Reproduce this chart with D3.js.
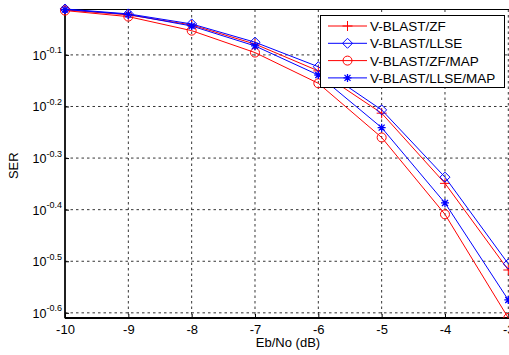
<!DOCTYPE html>
<html><head><meta charset="utf-8">
<script src="https://cdn.jsdelivr.net/npm/d3@7"></script>
<style>body{margin:0;background:#fff}svg{display:block}text{font-family:"Liberation Sans",Arial,sans-serif}</style>
</head><body><svg id="c" width="509" height="355"></svg>
<script>
const ebno = [-10, -9, -8, -7, -6, -5, -4, -3];
const zf      = [0.9710, 0.9495, 0.9078, 0.8337, 0.7396, 0.6124, 0.4477, 0.3041];
const llse    = [0.9750, 0.9539, 0.9120, 0.8406, 0.7534, 0.6214, 0.4603, 0.3126];
const zfMap   = [0.9681, 0.9423, 0.8851, 0.8026, 0.6998, 0.5495, 0.3899, 0.2455];
const llseMap = [0.9727, 0.9517, 0.9036, 0.8268, 0.7261, 0.5741, 0.4102, 0.2661];
const seriesNames = ["V-BLAST/ZF", "V-BLAST/LLSE", "V-BLAST/ZF/MAP", "V-BLAST/LLSE/MAP"];
const yTickExps = ["-0.1", "-0.2", "-0.3", "-0.4", "-0.5", "-0.6"];
const xTicks = [-10, -9, -8, -7, -6, -5, -4, -3];

const series = [
  {name: seriesNames[0], values: zf, color: "#ff0000", marker: "plus"},
  {name: seriesNames[1], values: llse, color: "#0000ff", marker: "diamond"},
  {name: seriesNames[2], values: zfMap, color: "#ff0000", marker: "circle"},
  {name: seriesNames[3], values: llseMap, color: "#0000ff", marker: "star"}
];

const svg = d3.select("#c");
const L = 65, R = 508.3, RB = 512, T = 9.5, B = 318;
const x = d3.scaleLinear().domain([-10, -3]).range([L, R]);
const y = d3.scaleLog().domain([Math.pow(10, -0.61), Math.pow(10, -0.012)]).range([B, T]);

const defs = svg.append("defs");
defs.append("clipPath").attr("id", "clip").append("rect")
  .attr("x", L - 6).attr("y", T - 6).attr("width", RB - L + 12).attr("height", B - T + 6);

// grid
const g = svg.append("g");
xTicks.forEach(t => {
  if (t === -10) return;
  g.append("line").attr("x1", x(t)).attr("x2", x(t)).attr("y1", T).attr("y2", B)
    .attr("stroke", "#000").attr("stroke-width", 0.8).attr("stroke-dasharray", "2.5,3");
});
yTickExps.forEach(e => {
  const yy = y(Math.pow(10, +e));
  g.append("line").attr("x1", L).attr("x2", RB).attr("y1", yy).attr("y2", yy)
    .attr("stroke", "#000").attr("stroke-width", 0.8).attr("stroke-dasharray", "2.5,3");
});

// axes via d3
const xAxis = d3.axisBottom(x).tickValues(xTicks).tickSize(-4).tickPadding(7).tickFormat(d3.format("d"));
const xa = svg.append("g").attr("transform", `translate(0,${B})`).call(xAxis);
xa.select(".domain").remove();
xa.selectAll("text").attr("font-size", 13).attr("fill", "#000").text(d => String(d));
xa.selectAll("line").attr("stroke", "#000");

const yAxis = d3.axisLeft(y).tickValues(yTickExps.map(e => Math.pow(10, +e))).tickSize(-4).tickFormat(() => "");
const ya = svg.append("g").attr("transform", `translate(${L},0)`).call(yAxis);
ya.select(".domain").remove();
ya.selectAll("line").attr("stroke", "#000");
yTickExps.forEach(e => {
  const yy = y(Math.pow(10, +e));
  const t = svg.append("text").attr("x", L - 3).attr("y", yy + 5).attr("text-anchor", "end").attr("font-size", 12.5).attr("fill", "#000");
  t.append("tspan").text("10");
  t.append("tspan").attr("dy", -6.5).attr("font-size", 9).text(e);
});

// frame
svg.append("rect").attr("x", L).attr("y", T).attr("width", RB - L).attr("height", B - T)
  .attr("fill", "none").attr("stroke", "#000").attr("stroke-width", 1);
svg.append("line").attr("x1", L).attr("x2", RB).attr("y1", B).attr("y2", B).attr("stroke", "#000").attr("stroke-width", 2);
svg.append("line").attr("x1", L).attr("x2", L).attr("y1", T).attr("y2", B).attr("stroke", "#000").attr("stroke-width", 1.5);

function drawMarker(sel, type, cx, cy, color) {
  if (type === "plus") {
    sel.append("path").attr("d", `M${cx-5},${cy}H${cx+5}M${cx},${cy-5}V${cy+5}`).attr("stroke", color).attr("fill", "none");
  } else if (type === "diamond") {
    sel.append("path").attr("d", `M${cx},${cy-5}L${cx+5},${cy}L${cx},${cy+5}L${cx-5},${cy}Z`).attr("stroke", color).attr("fill", "none");
  } else if (type === "circle") {
    sel.append("circle").attr("cx", cx).attr("cy", cy).attr("r", 4.5).attr("stroke", color).attr("fill", "none");
  } else {
    const r = 4, d = r * 0.75;
    sel.append("path").attr("d", `M${cx-r},${cy}H${cx+r}M${cx},${cy-r}V${cy+r}M${cx-d},${cy-d}L${cx+d},${cy+d}M${cx-d},${cy+d}L${cx+d},${cy-d}`)
      .attr("stroke", color).attr("stroke-width", 1.3).attr("fill", "none");
  }
}

const plot = svg.append("g").attr("clip-path", "url(#clip)");
const line = d3.line().x((d, i) => x(ebno[i])).y(d => y(d));
series.forEach(s => {
  plot.append("path").datum(s.values).attr("d", line).attr("fill", "none").attr("stroke", s.color).attr("stroke-width", 1);
  s.values.forEach((v, i) => drawMarker(plot, s.marker, x(ebno[i]), y(v), s.color));
});

// labels
svg.append("text").attr("x", 288).attr("y", 347).attr("text-anchor", "middle").attr("font-size", 13).text("Eb/No (dB)");
svg.append("text").attr("transform", `translate(18,${(T + B) / 2 + 2}) rotate(-90)`).attr("text-anchor", "middle").attr("font-size", 13).text("SER");

// legend
const lg = svg.append("g");
lg.append("rect").attr("x", 320.5).attr("y", 15.5).attr("width", 184).attr("height", 72).attr("fill", "#fff").attr("stroke", "#000");
series.forEach((s, i) => {
  const yy = 26 + i * 17.3;
  lg.append("line").attr("x1", 328).attr("x2", 367).attr("y1", yy).attr("y2", yy).attr("stroke", s.color);
  drawMarker(lg, s.marker, 347.5, yy, s.color);
  lg.append("text").attr("x", 370).attr("y", yy + 5).attr("font-size", 13.5).text(s.name);
});
</script></body></html>
